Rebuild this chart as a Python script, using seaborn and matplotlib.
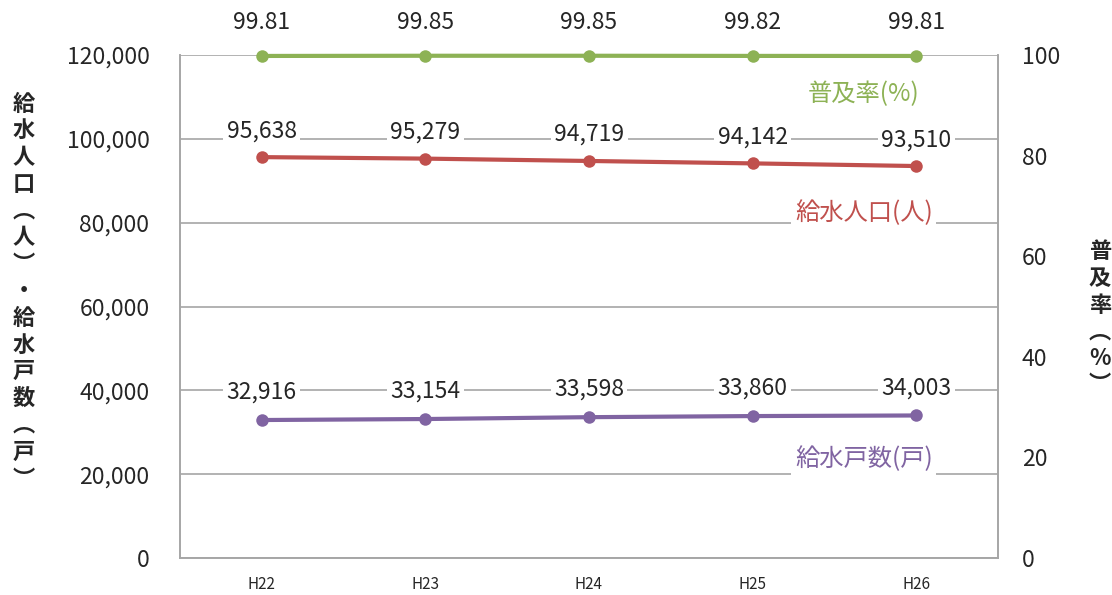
import numpy as np
import pandas as pd
import seaborn as sns
import matplotlib.pyplot as plt

# データ
years = ['H22', 'H23', 'H24', 'H25', 'H26']
population = [95638, 95279, 94719, 94142, 93510]
households = [32916, 33154, 33598, 33860, 34003]
rate = [99.81, 99.85, 99.85, 99.82, 99.81]

green = '#8DB255'
red = '#C0504D'
purple = '#8064A2'
gray = '#A6A6A6'

sns.set_style('white')
plt.rcParams['font.family'] = ['Noto Sans CJK JP', 'DejaVu Sans']

fig = plt.figure(figsize=(11.12, 5.95), dpi=100)
ax = fig.add_axes([180 / 1112, 37 / 595, 818 / 1112, 503 / 595])
ax2 = ax.twinx()

df = pd.DataFrame({'year': years, 'pop': population, 'hh': households, 'rate': rate})

sns.lineplot(data=df, x='year', y='pop', ax=ax, color=red, marker='o', markersize=9,
             markeredgewidth=0, linewidth=3)
sns.lineplot(data=df, x='year', y='hh', ax=ax, color=purple, marker='o', markersize=9,
             markeredgewidth=0, linewidth=3)
sns.lineplot(data=df, x='year', y='rate', ax=ax2, color=green, marker='o', markersize=9,
             markeredgewidth=0, linewidth=3, clip_on=False)

ax.set_xlim(-0.5, 4.5)
ax.set_ylim(0, 120000)
ax2.set_ylim(0, 100)
ax.set_yticks(np.arange(0, 120001, 20000))
ax.set_yticklabels([f'{v:,}' for v in range(0, 120001, 20000)], fontsize=16.5)
ax2.set_yticks(np.arange(0, 101, 20))
ax2.set_yticklabels([str(v) for v in range(0, 101, 20)], fontsize=16.5)

# 区切り目盛
ax.set_xticks(np.arange(-0.5, 4.6, 1.0))
ax.set_xticklabels([])
ax.set_xticks(range(5), minor=True)
ax.set_xticklabels(years, minor=True, fontsize=11)
ax.tick_params(axis='x', which='major', length=6, color=gray, width=1.2, direction='out')
ax.tick_params(axis='x', which='minor', length=0, pad=13)
ax.tick_params(axis='y', length=0, pad=22)
ax2.tick_params(axis='y', length=0, pad=17)

ax.yaxis.grid(True, color=gray, linewidth=1.2)
ax.set_axisbelow(True)
ax.set_xlabel('')
ax.set_ylabel('')
ax2.set_xlabel('')
ax2.set_ylabel('')

for a in (ax, ax2):
    a.spines['top'].set_visible(False)
    for s in ('left', 'right', 'bottom'):
        a.spines[s].set_color(gray)
        a.spines[s].set_linewidth(1.2)

box = dict(boxstyle='square,pad=0.15', facecolor='white', edgecolor='none')
for i in range(5):
    ax.annotate(f'{population[i]:,}', (i, population[i]), xytext=(0, 19), textcoords='offset points',
                ha='center', va='center', fontsize=16.5, bbox=box)
    ax.annotate(f'{households[i]:,}', (i, households[i]), xytext=(0, 20), textcoords='offset points',
                ha='center', va='center', fontsize=16.5, bbox=box)
    ax2.annotate(f'{rate[i]:.2f}', (i, rate[i]), xytext=(0, 24), textcoords='offset points',
                 ha='center', va='center', fontsize=16.5, annotation_clip=False)

ax2.text(3.68, 92.3, '普及率(%)', color=green, fontsize=17.5, ha='center', va='center', bbox=box)
ax.text(3.68, 82200, '給水人口(人)', color=red, fontsize=17.5, ha='center', va='center', bbox=box)
ax.text(3.68, 23500, '給水戸数(戸)', color=purple, fontsize=17.5, ha='center', va='center', bbox=box)

left_label = '\n'.join('給水人口︵人︶・給水戸数︵戸︶')
right_label = '\n'.join('普及率︵%︶')
fig.text(24 / 1112, 0.51, left_label, fontsize=16, fontweight='bold', ha='center', va='center',
         linespacing=1.21)
fig.text(1100 / 1112, 0.465, right_label, fontsize=16, fontweight='bold', ha='center', va='center',
         linespacing=1.2)

fig.savefig('out.png', dpi=100)
